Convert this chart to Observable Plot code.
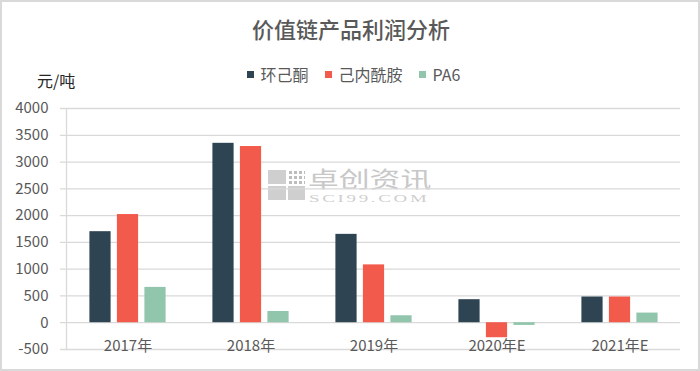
<!DOCTYPE html>
<html>
<head>
<meta charset="utf-8">
<script src="https://cdn.jsdelivr.net/npm/d3@7"></script>
<script src="https://cdn.jsdelivr.net/npm/@observablehq/plot@0.6"></script>
<style>
  html, body { margin: 0; padding: 0; background: #fff; }
  #wrap { position: relative; width: 700px; height: 371px; overflow: hidden; background: #fff;
          font-family: "Noto Sans CJK SC", "Noto Sans", sans-serif; }
  #border { position: absolute; left: 0; top: 0; width: 700px; height: 371px; box-sizing: border-box;
            border: 2px solid #d9d9d9; z-index: 5; pointer-events: none; }
  #title { position: absolute; left: 0; top: 16px; width: 702px; text-align: center; font-size: 22px;
           line-height: 24px; color: #595959; font-weight: 500; }
  #legend { position: absolute; left: 0; top: 63px; width: 707px; display: flex; justify-content: center;
            align-items: center; font-size: 16px; line-height: 22px; color: #595959; }
  #legend .item { display: flex; align-items: center; margin: 0 8px; }
  #legend .sw { width: 7px; height: 7px; margin-right: 7px; }
  #unit { position: absolute; left: 37px; top: 69px; font-size: 16px; line-height: 22px; color: #262626; }
  #wm { position: absolute; left: 268px; top: 166px; color: #c9c9c9; z-index: 0; }
  #wm .icon { position: absolute; left: 0; top: 4px; width: 37px; height: 30px; display: grid;
              grid-template-columns: 1fr 1fr; grid-template-rows: 1fr 1fr; gap: 2px; }
  #wm .icon div { background: #cfcfcf; }
  #wm .icon div.dots { background: radial-gradient(#bdbdbd 40%, transparent 45%) 0 0 / 5px 5px; }
  #wm .cn { position: absolute; left: 40px; top: 0px; font-size: 22px; line-height: 22px; height: 22px; white-space: nowrap;
            transform: scaleX(1.4); transform-origin: left top; color: #c8c8c8; }
  #wm .en { position: absolute; left: 41px; top: 28px; font-family: "Liberation Serif", serif; font-size: 10.5px;
            line-height: 10px; height: 10px; white-space: nowrap; letter-spacing: 1.5px; transform: scaleX(1.8);
            transform-origin: left top; color: #cfcfcf; }
  #chart { position: absolute; left: 0; top: 90px; z-index: 1; }
</style>
</head>
<body>
<div id="wrap">
  <div id="title"></div>
  <div id="legend"></div>
  <div id="unit"></div>
  <div id="wm"><div class="icon"><div></div><div class="dots"></div><div></div><div></div></div>
    <div class="cn">卓创资讯</div><div class="en">SCI99.COM</div></div>
  <div id="chart"></div>
  <div id="border"></div>
</div>
<script>
const title = "价值链产品利润分析";
const unitLabel = "元/吨";
const years = ["2017年", "2018年", "2019年", "2020年E", "2021年E"];
const seriesNames = ["环己酮", "己内酰胺", "PA6"];
const seriesColors = ["#2e4453", "#f25b4b", "#92c6ac"];
const cyclohexanone = [1700, 3350, 1650, 430, 480];
const caprolactam = [2020, 3290, 1080, -280, 480];
const pa6 = [660, 210, 130, -50, 180];
const yTicks = [-500, 0, 500, 1000, 1500, 2000, 2500, 3000, 3500, 4000];

const seriesValues = [cyclohexanone, caprolactam, pa6];
const data = [];
years.forEach((yr, i) => seriesNames.forEach((s, j) => data.push({year: yr, series: s, value: seriesValues[j][i]})));

document.getElementById("title").textContent = title;
document.getElementById("unit").textContent = unitLabel;
const legend = document.getElementById("legend");
seriesNames.forEach((s, j) => {
  const it = document.createElement("div"); it.className = "item";
  const sw = document.createElement("div"); sw.className = "sw"; sw.style.background = seriesColors[j];
  const tx = document.createElement("span"); tx.textContent = s;
  it.appendChild(sw); it.appendChild(tx); legend.appendChild(it);
});

const barW = 21.5;
const step = 27.5;
const bars = seriesNames.map((s, j) => Plot.barY(data.filter(d => d.series === s), {
  x: "year", y: "value", fill: "series",
  insetLeft: (123.3 - barW) / 2, insetRight: (123.3 - barW) / 2,
  dx: (j - 1) * step
}));

const chart = Plot.plot({
  width: 700, height: 281,
  marginTop: 18, marginBottom: 22, marginLeft: 60, marginRight: 20,
  style: {background: "transparent", fontFamily: "'Noto Sans CJK SC', 'Noto Sans', sans-serif", fontSize: "15px", color: "#595959"},
  x: {domain: years, range: [65, 682], padding: 0, label: null},
  y: {domain: [-500, 4000], label: null},
  color: {domain: seriesNames, range: seriesColors},
  marks: [
    Plot.gridY(yTicks, {stroke: "#d9d9d9", strokeOpacity: 1, strokeWidth: 1.3}),
    Plot.frame({anchor: "left", stroke: "#d9d9d9", strokeWidth: 1.3, dx: 6}),
    ...bars,
    Plot.axisY(yTicks, {tickSize: 0, tickPadding: 12, tickFormat: d => String(d), fontSize: 15, fill: "#595959"}),
    Plot.axisX({tickSize: 0, tickPadding: 0, dy: -9, fontSize: 15, fill: "#595959", label: null})
  ]
});
document.getElementById("chart").appendChild(chart);
</script>
</body>
</html>
